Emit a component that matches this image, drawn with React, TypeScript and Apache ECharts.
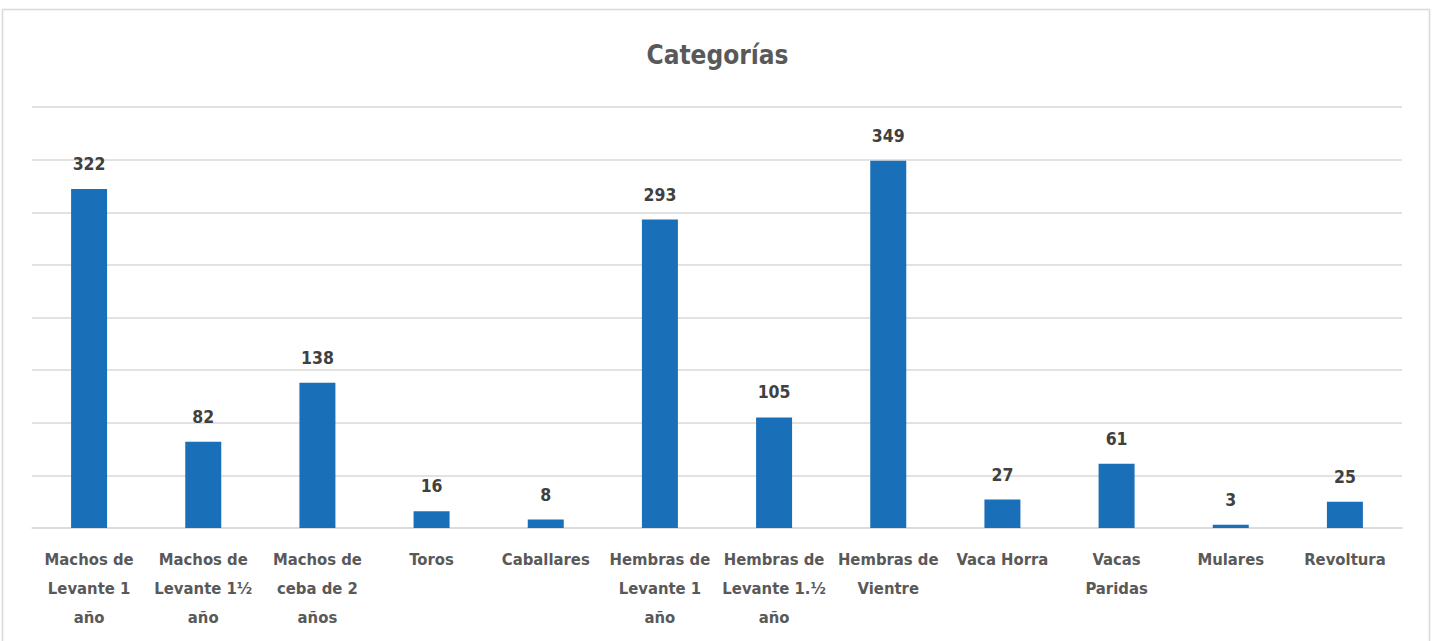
import React, { useEffect, useRef } from "react";
import * as echarts from "echarts";

const categories = [
  "Machos de\nLevante 1\naño",
  "Machos de\nLevante 1½\naño",
  "Machos de\nceba de 2\naños",
  "Toros",
  "Caballares",
  "Hembras de\nLevante 1\naño",
  "Hembras de\nLevante 1.½\naño",
  "Hembras de\nVientre",
  "Vaca Horra",
  "Vacas\nParidas",
  "Mulares",
  "Revoltura",
];
const values = [322, 82, 138, 16, 8, 293, 105, 349, 27, 61, 3, 25];
const titleText = "Categorías";

const FONT = "'DejaVu Sans Condensed', 'Liberation Sans Narrow', sans-serif";

export default function App() {
  const ref = useRef<HTMLDivElement>(null);
  useEffect(() => {
    if (!ref.current) return;
    const chart = echarts.init(ref.current, undefined, { renderer: "svg" });
    chart.setOption({
      animation: false,
      backgroundColor: "#ffffff",
      title: {
        text: titleText,
        left: "center",
        top: 37,
        textStyle: { fontFamily: FONT, fontSize: 26, fontWeight: "bold", color: "#595959" },
      },
      graphic: [
        {
          type: "rect",
          shape: { x: 2.5, y: 9.5, width: 1427, height: 660 },
          style: { fill: "none", stroke: "#d9d9d9", lineWidth: 1.5 },
          silent: true,
        },
      ],
      grid: { left: 32, right: 33, top: 107, bottom: 113 },
      xAxis: {
        type: "category",
        data: categories,
        axisLine: { show: true, lineStyle: { color: "#d9d9d9", width: 1.5 } },
        axisTick: { show: false },
        axisLabel: {
          interval: 0,
          margin: 17,
          fontFamily: FONT,
          fontSize: 16.5,
          fontWeight: "bold",
          color: "#595959",
          lineHeight: 29,
        },
      },
      yAxis: {
        type: "value",
        min: 0,
        max: 400,
        interval: 50,
        axisLabel: { show: false },
        axisLine: { show: false },
        axisTick: { show: false },
        splitLine: { lineStyle: { color: "#d9d9d9", width: 1.5 } },
      },
      series: [
        {
          type: "bar",
          data: values,
          barWidth: 36,
          itemStyle: { color: "#1a70b8" },
          label: {
            show: true,
            position: "top",
            distance: 16,
            fontFamily: FONT,
            fontSize: 17.5,
            fontWeight: "bold",
            color: "#404040",
          },
        },
      ],
    });
    return () => chart.dispose();
  }, []);
  return (
    <div
      ref={ref}
      style={{ position: "fixed", left: 0, top: 0, width: 1435, height: 641 }}
    />
  );
}
